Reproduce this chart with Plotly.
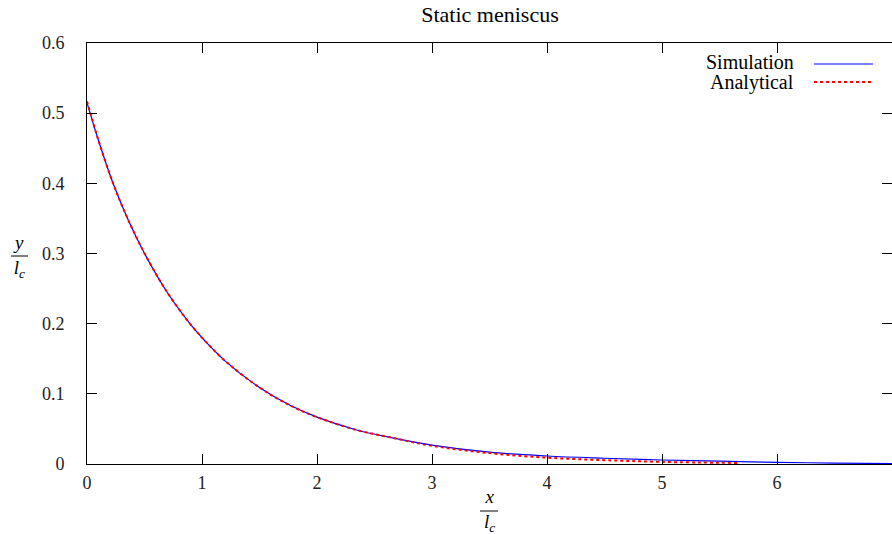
import plotly.graph_objects as go

# Data
sim_x = [0.0, 0.1, 0.229, 0.35, 0.504, 0.7, 0.9, 1.0, 1.2, 1.5, 1.765, 2.0,
         2.345, 2.635, 3.0, 3.5, 4.0, 4.5, 5.0, 5.5, 6.0, 6.5, 7.0]
sim_y = [0.515, 0.461, 0.399, 0.351, 0.299, 0.244, 0.199, 0.180, 0.147, 0.109, 0.0836, 0.0668,
         0.0485, 0.038, 0.027, 0.0168, 0.0114, 0.0082, 0.0057, 0.004, 0.0024, 0.0013, 0.0006]
ana_x = [0.0, 0.1, 0.229, 0.35, 0.504, 0.7, 0.9, 1.0, 1.2, 1.5, 1.765, 2.0,
         2.345, 2.635, 3.0, 3.5, 4.0, 4.5, 5.0, 5.66]
ana_y = [0.517, 0.461, 0.399, 0.351, 0.299, 0.244, 0.199, 0.180, 0.147, 0.109, 0.0836, 0.0668,
         0.0485, 0.038, 0.026, 0.0155, 0.009, 0.0055, 0.003, 0.0015]

x_ticks = [0, 1, 2, 3, 4, 5, 6, 7]
y_ticks = [0, 0.1, 0.2, 0.3, 0.4, 0.5, 0.6]
y_tick_text = ["0", "0.1", "0.2", "0.3", "0.4", "0.5", "0.6"]

FONT = "Liberation Serif"
W, H = 892, 534
L, R, T, B = 87, 0, 43, 70
pw, ph = W - L - R, H - T - B

def px(xp):
    return (xp - L) / pw

def py(yp):
    return (H - B - yp) / ph

fig = go.Figure()
fig.add_trace(go.Scatter(x=sim_x, y=sim_y, mode="lines", name="Simulation",
                         line=dict(color="#0000ff", width=1.2), line_shape="spline",
                         showlegend=False))
fig.add_trace(go.Scatter(x=ana_x, y=ana_y, mode="lines", name="Analytical",
                         line=dict(color="#ff0000", width=2, dash="dot"), line_shape="spline",
                         showlegend=False))

axis_common = dict(showline=True, linecolor="black", linewidth=1, mirror="ticks",
                   ticks="inside", ticklen=10, tickcolor="black", tickwidth=1,
                   showgrid=False, zeroline=False,
                   tickfont=dict(family=FONT, size=18, color="#222"))

fig.update_layout(
    width=W, height=H,
    margin=dict(l=L, r=R, t=T, b=B),
    paper_bgcolor="white", plot_bgcolor="white",
    font=dict(family=FONT),
    title=dict(text="Static meniscus", x=490 / W,
               xanchor="center", y=1 - 14 / H, yanchor="middle", yref="container",
               font=dict(family=FONT, size=22, color="black")),
    xaxis=dict(range=[0, 7], tickvals=x_ticks, ticklabelstandoff=2, **axis_common),
    yaxis=dict(range=[0, 0.6], tickvals=y_ticks, ticktext=y_tick_text, ticklabelstandoff=18,
               **axis_common),
    showlegend=False,
)

leg_font = dict(family=FONT, size=20, color="black")
lab_font = dict(family=FONT, size=19, color="black")
annotations = [
    # legend texts
    dict(x=px(796), y=py(62), xref="paper", yref="paper", text="Simulation",
         showarrow=False, xanchor="right", yanchor="middle", font=leg_font),
    dict(x=px(796), y=py(82), xref="paper", yref="paper", text="Analytical",
         showarrow=False, xanchor="right", yanchor="middle", font=leg_font),
    # y axis label fraction
    dict(x=px(19), y=py(256), xref="paper", yref="paper",
         text="<i>y</i><br><i>l</i><sub><i>c</i></sub>", align="center",
         showarrow=False, xanchor="center", yanchor="middle", font=lab_font),
    # x axis label fraction
    dict(x=px(489), y=py(511), xref="paper", yref="paper",
         text="<i>x</i><br><i>l</i><sub><i>c</i></sub>", align="center",
         showarrow=False, xanchor="center", yanchor="middle", font=lab_font),
]
fig.update_layout(annotations=annotations)

shapes = [
    dict(type="line", xref="paper", yref="paper", x0=px(814), x1=px(873), y0=py(64), y1=py(64),
         line=dict(color="#0000ff", width=1.2)),
    dict(type="line", xref="paper", yref="paper", x0=px(814), x1=px(873), y0=py(82), y1=py(82),
         line=dict(color="#ff0000", width=2, dash="dot")),
    dict(type="line", xref="paper", yref="paper", x0=px(11), x1=px(28), y0=py(256), y1=py(256),
         line=dict(color="black", width=1)),
    dict(type="line", xref="paper", yref="paper", x0=px(480), x1=px(498), y0=py(511), y1=py(511),
         line=dict(color="black", width=1)),
]
fig.update_layout(shapes=shapes)

fig.write_html("out.html")
